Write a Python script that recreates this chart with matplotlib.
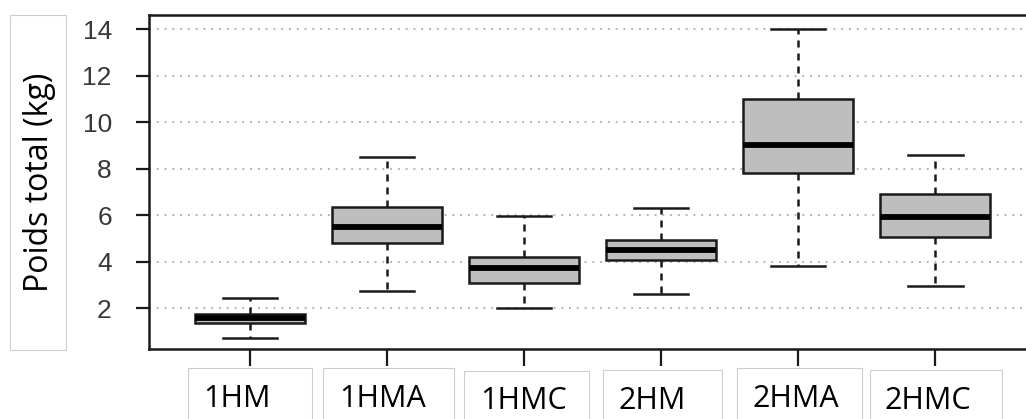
import matplotlib
matplotlib.use("Agg")
import matplotlib.pyplot as plt
from matplotlib.patches import Rectangle

categories = ["1HM", "1HMA", "1HMC", "2HM", "2HMA", "2HMC"]
whisker_low = [0.72, 2.76, 2.03, 2.62, 3.82, 2.96]
q1 = [1.36, 4.82, 3.10, 4.08, 7.83, 5.08]
median = [1.57, 5.51, 3.72, 4.50, 9.02, 5.94]
q3 = [1.77, 6.37, 4.22, 4.92, 11.0, 6.90]
whisker_high = [2.45, 8.52, 5.97, 6.30, 14.0, 8.60]
yticks = [2, 4, 6, 8, 10, 12, 14]
ylabel = "Poids total (kg)"

W, H = 1026, 419
fig = plt.figure(figsize=(W / 100, H / 100), dpi=100)

def fx(x):
    return x / W

def fy(y):
    return 1 - y / H

ax_l, ax_r, ax_t, ax_b = 148.6, 1036.5, 15, 348.5
ax = fig.add_axes([fx(ax_l), fy(ax_b), fx(ax_r - ax_l), (ax_b - ax_t) / H])

stats = []
for i, c in enumerate(categories):
    stats.append(dict(label=c, whislo=whisker_low[i], q1=q1[i], med=median[i],
                      q3=q3[i], whishi=whisker_high[i], fliers=[]))

pos = list(range(1, len(categories) + 1))
ax.bxp(stats, positions=pos, widths=0.8, patch_artist=True, showfliers=False,
       boxprops=dict(facecolor="#bebebe", edgecolor="#1a1a1a", linewidth=1.8),
       medianprops=dict(color="black", linewidth=4.2, solid_capstyle="butt"),
       whiskerprops=dict(color="#1a1a1a", linewidth=1.8, linestyle=(0, (2.8, 2.4))),
       capprops=dict(color="#1a1a1a", linewidth=1.8),
       capwidths=0.4, zorder=3)

ax.set_xlim(0.26, 6.74)
ax.set_ylim(0.27, 14.62)
ax.set_yticks(yticks)
ax.set_yticklabels([str(v) for v in yticks], fontsize=19, color="#3a363c",
                   family="Liberation Sans")
ax.set_xticks(pos)
ax.set_xticklabels([])
ax.tick_params(axis="y", length=9.5, width=1.6, pad=17, color="#1a1a1a")
ax.tick_params(axis="x", length=12.5, width=1.6, color="#1a1a1a")
for v in yticks:
    ax.axhline(v, color="#b4b4b4", linewidth=1.4, linestyle=(0, (1, 3)), zorder=1)
for s in ["left", "top", "bottom"]:
    ax.spines[s].set_linewidth(1.8)
    ax.spines[s].set_color("#1a1a1a")
ax.spines["right"].set_visible(False)

# y label box
fig.add_artist(Rectangle((fx(9.5), fy(350)), fx(66 - 9.5), (350 - 15) / H,
                         transform=fig.transFigure, fill=False,
                         edgecolor="#cccccc", linewidth=0.8))
fig.text(fx(40), fy(182), ylabel, rotation=90, ha="center", va="center",
         fontsize=23, family="Open Sans", color="black")

# x label boxes
boxes = [(188, 312, 368), (323, 454, 368), (464, 589, 370.7),
         (603, 722, 370), (737, 862, 368.3), (870, 1002, 370)]
text_x = [203, 339, 480, 618, 752, 885]
baselines = [406.7, 406.7, 409, 409, 406.7, 409]
for (x0, x1, yt), tx, bl, c in zip(boxes, text_x, baselines, categories):
    fig.add_artist(Rectangle((fx(x0), fy(425)), fx(x1 - x0), (425 - yt) / H,
                             transform=fig.transFigure, fill=False,
                             edgecolor="#cccccc", linewidth=0.8, clip_on=False))
    fig.text(fx(tx), fy(bl), c, ha="left", va="baseline", fontsize=22,
             family="Open Sans", color="black")

fig.savefig("out.png", dpi=100)
